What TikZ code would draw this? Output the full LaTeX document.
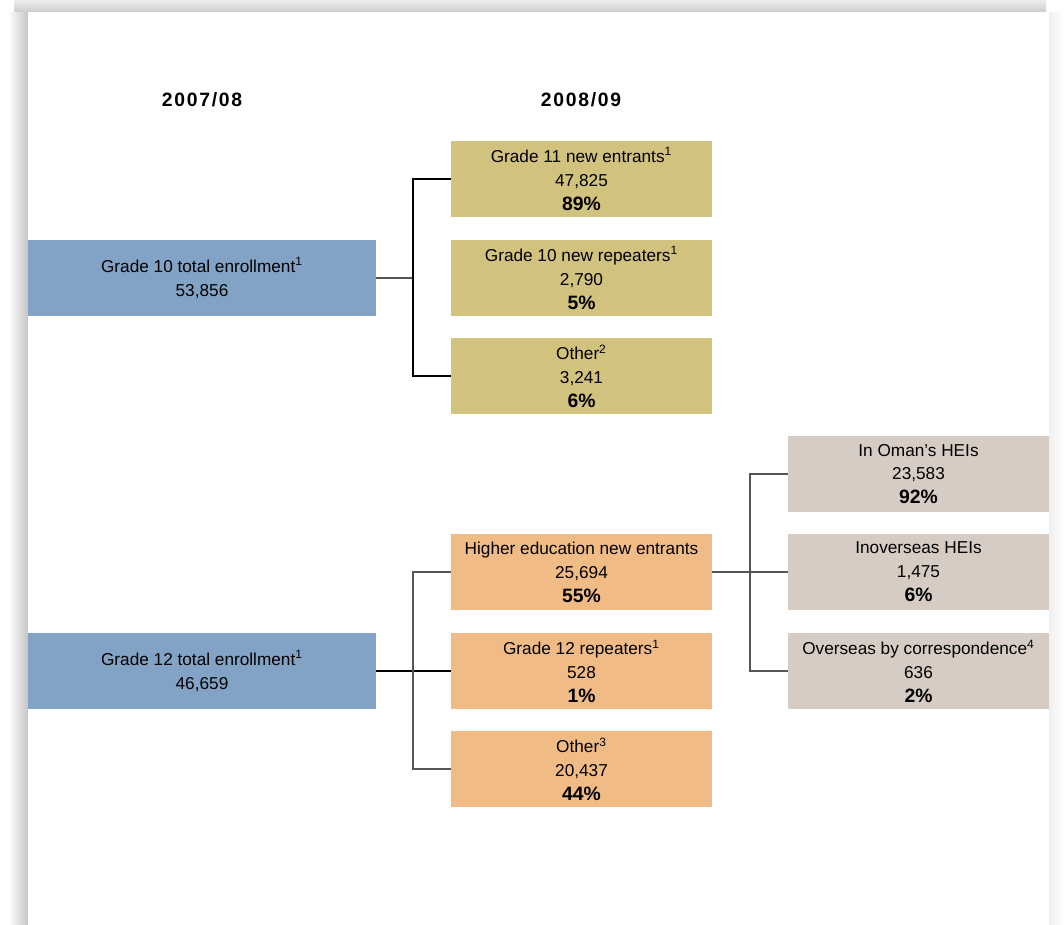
\documentclass[tikz,border=0pt]{standalone}
\usepackage{fontspec}
\setmainfont{Liberation Sans}
\usetikzlibrary{positioning, calc}
\definecolor{gradeblue}{RGB}{130, 163, 197}
\definecolor{nextgold}{RGB}{209, 194, 126}
\definecolor{nextorange}{RGB}{240, 187, 133}
\definecolor{hegray}{RGB}{214, 204, 195}
\definecolor{linkgray}{RGB}{85, 85, 85}

\begin{document}
\begin{tikzpicture}[x=0.02cm, y=-0.02cm,
    box/.style={rectangle, minimum width=5.22cm, minimum height=1.52cm, inner sep=0pt, align=center, font=\fontsize{9.8}{13.6}\selectfont},
    bigbox/.style={box, fill=gradeblue, minimum width=6.96cm},
    year/.style={font=\fontsize{11}{12}\selectfont\bfseries\addfontfeature{LetterSpace=9}},
    link/.style={draw=black, line width=0.6pt}
]
% Page and its shadow
\useasboundingbox (0,0) rectangle (1064,924);
\fill[white] (0,0) rectangle (1064,924);
\shade[top color=gray!14, bottom color=gray!40] (14,0) rectangle (1046,12);
\shade[left color=white, right color=gray!45] (8,12) rectangle (28,924);
\shade[left color=gray!12, right color=white] (1049,12) rectangle (1064,924);
\fill[white] (28,12) rectangle (1049,924);

% Year headings
\node[year] (yr1) at (202,100) {2007/08};
\node[year] (yr2) at (581,100) {2008/09};

% Grade 10 and where it went
\node[bigbox] (g10) at (202,278) {Grade 10 total enrollment\textsuperscript{1}\\53,856};
\node[box, fill=nextgold] (g11new) at (581.5,179) {Grade 11 new entrants\textsuperscript{1}\\47,825\\{\bfseries\fontsize{11}{13.6}\selectfont 89\%}};
\node[box, fill=nextgold] (g10rep) at (581.5,278) {Grade 10 new repeaters\textsuperscript{1}\\2,790\\{\bfseries\fontsize{11}{13.6}\selectfont 5\%}};
\node[box, fill=nextgold] (oth2) at (581.5,376) {Other\textsuperscript{2}\\3,241\\{\bfseries\fontsize{11}{13.6}\selectfont 6\%}};

% Grade 12 and where it went
\node[bigbox] (g12) at (202,671) {Grade 12 total enrollment\textsuperscript{1}\\46,659};
\node[box, fill=nextorange] (hene) at (581.5,572) {Higher education new entrants\\25,694\\{\bfseries\fontsize{11}{13.6}\selectfont 55\%}};
\node[box, fill=nextorange] (g12rep) at (581.5,671) {Grade 12 repeaters\textsuperscript{1}\\528\\{\bfseries\fontsize{11}{13.6}\selectfont 1\%}};
\node[box, fill=nextorange] (oth3) at (581.5,769) {Other\textsuperscript{3}\\20,437\\{\bfseries\fontsize{11}{13.6}\selectfont 44\%}};

% Higher education split
\node[box, fill=hegray] (oman) at (918.5,474) {In Oman's HEIs\\23,583\\{\bfseries\fontsize{11}{13.6}\selectfont 92\%}};
\node[box, fill=hegray] (inov) at (918.5,572) {Inoverseas HEIs\\1,475\\{\bfseries\fontsize{11}{13.6}\selectfont 6\%}};
\node[box, fill=hegray] (corr) at (918.5,671) {Overseas by correspondence\textsuperscript{4}\\636\\{\bfseries\fontsize{11}{13.6}\selectfont 2\%}};

% Junctions
\coordinate (j10) at (413,278);
\coordinate (j12) at (413,671);
\coordinate (jhe) at (750,572);

% Connectors
\draw[link, draw=linkgray] (g10.east) -- (j10);
\draw[link] (g11new.west) -| (j10);
\draw[link] (oth2.west) -| (j10);

\draw[link] (g12.east) -- (g12rep.west);
\draw[link, draw=linkgray] (hene.west) -| (j12);
\draw[link, draw=linkgray] (oth3.west) -| (j12);

\draw[link, draw=linkgray] (hene.east) -- (inov.west);
\draw[link, draw=linkgray] (oman.west) -| (jhe);
\draw[link, draw=linkgray] (corr.west) -| (jhe);
\end{tikzpicture}
\end{document}
